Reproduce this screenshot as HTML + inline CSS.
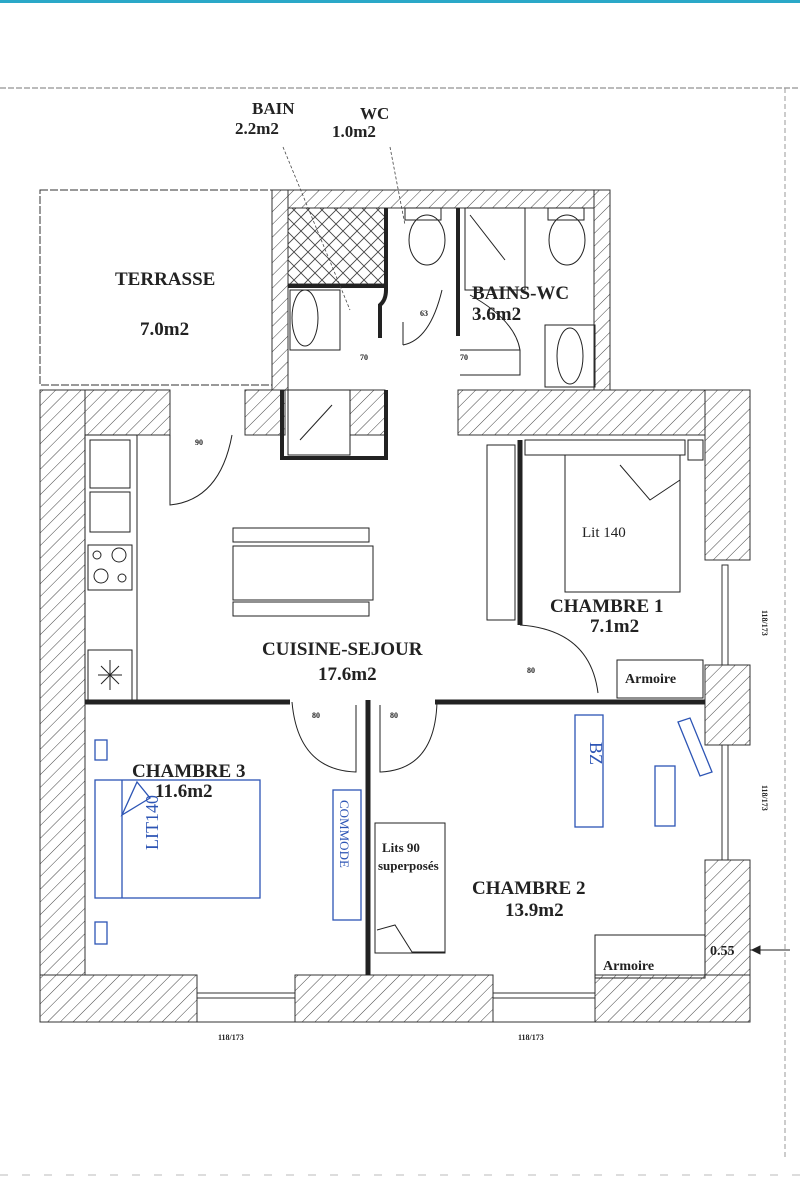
<!DOCTYPE html>
<html><head><meta charset="utf-8"><style>
html,body{margin:0;padding:0;background:#fff}
svg{display:block}
text{font-family:"Liberation Serif",serif;fill:#222}
</style></head><body>
<svg width="800" height="1200" viewBox="0 0 800 1200" xmlns="http://www.w3.org/2000/svg">
<defs>
<pattern id="h" patternUnits="userSpaceOnUse" width="9" height="9" patternTransform="rotate(45)">
<rect width="9" height="9" fill="#fff"/><line x1="0" y1="0" x2="0" y2="9" stroke="#444" stroke-width="1"/>
</pattern>
<pattern id="x" patternUnits="userSpaceOnUse" width="14" height="14">
<rect width="14" height="14" fill="#fff"/><path d="M0 0L14 14M14 0L0 14" stroke="#444" stroke-width="0.9"/>
</pattern>
</defs>
<rect width="800" height="1200" fill="#fff"/>
<rect x="0" y="0" width="800" height="3" fill="#2aa8c8"/>
<line x1="0" y1="88" x2="800" y2="88" stroke="#777" stroke-width="1" stroke-dasharray="6,2"/>
<line x1="785" y1="88" x2="785" y2="1160" stroke="#999" stroke-width="1" stroke-dasharray="5,3"/>
<line x1="0" y1="1175" x2="800" y2="1175" stroke="#bbb" stroke-width="1" stroke-dasharray="8,14"/>

<g stroke="#333" stroke-width="1" fill="none">
<!-- terrasse -->
<rect x="40" y="190" width="232" height="195" stroke-dasharray="8,2"/>
</g>
<!-- bath block walls -->
<g fill="url(#h)" stroke="#333" stroke-width="1">
<rect x="272" y="190" width="338" height="18"/>
<rect x="272" y="190" width="16" height="200"/>
<rect x="594" y="190" width="16" height="200"/>
<!-- main walls -->
<rect x="40" y="390" width="130" height="45"/>
<rect x="245" y="390" width="40" height="45"/>
<rect x="350" y="390" width="35" height="45"/>
<rect x="458" y="390" width="292" height="45"/>
<rect x="40" y="390" width="45" height="632"/>
<rect x="705" y="390" width="45" height="170"/>
<rect x="705" y="665" width="45" height="80"/>
<rect x="705" y="860" width="45" height="162"/>
<rect x="40" y="975" width="157" height="47"/>
<rect x="295" y="975" width="198" height="47"/>
<rect x="595" y="975" width="155" height="47"/>
</g>
<!-- windows -->
<g stroke="#333" stroke-width="1" fill="#fff">
<rect x="197" y="993" width="98" height="5"/>
<rect x="493" y="993" width="102" height="5"/>
<rect x="722" y="565" width="6" height="100"/>
<rect x="722" y="745" width="6" height="115"/>
<line x1="197" y1="1022" x2="295" y2="1022"/>
<line x1="493" y1="1022" x2="595" y2="1022"/>
</g>
<!-- bath interiors -->
<rect x="288" y="208" width="98" height="76" fill="url(#x)" stroke="#333"/>
<g fill="none" stroke="#222">
<path d="M288 286H386V286" stroke-width="4"/>
<path d="M386 208V290Q386 300 380 305V338" stroke-width="4"/>
<path d="M458 208V336" stroke-width="4"/>
<ellipse cx="305" cy="318" rx="13" ry="28"/>
<rect x="290" y="290" width="50" height="60"/>
<rect x="405" y="208" width="36" height="12"/>
<ellipse cx="427" cy="240" rx="18" ry="25"/>
<rect x="465" y="208" width="60" height="82"/>
<line x1="470" y1="215" x2="505" y2="260"/>
<rect x="548" y="208" width="36" height="12"/>
<ellipse cx="567" cy="240" rx="18" ry="25"/>
<rect x="545" y="325" width="50" height="62"/>
<ellipse cx="570" cy="356" rx="13" ry="28"/>
<path d="M403 322V345M403 345Q430 340 442 290" stroke-width="1"/>
<path d="M460 350L520 350Q515 320 470 295" stroke-width="1"/>
<path d="M460 375H520V350"/>
<rect x="288" y="390" width="62" height="65"/>
<path d="M282 390V458H386V390" stroke-width="4"/>
<line x1="300" y1="440" x2="332" y2="405"/>
<!-- kitchen -->
<rect x="85" y="435" width="52" height="265"/>
<rect x="90" y="440" width="40" height="48"/>
<rect x="90" y="492" width="40" height="40"/>
<rect x="88" y="545" width="44" height="45"/>
<circle cx="97" cy="555" r="4"/><circle cx="119" cy="555" r="7"/>
<circle cx="101" cy="576" r="7"/><circle cx="122" cy="578" r="4"/>
<rect x="88" y="650" width="44" height="50"/>
<path d="M98 675H122M110 660V690M101 666L119 684M119 666L101 684" />
<!-- door 90 -->
<path d="M170 435V505Q220 500 232 435"/>
<!-- table -->
<rect x="233" y="528" width="136" height="14"/>
<rect x="233" y="546" width="140" height="54"/>
<rect x="233" y="602" width="136" height="14"/>
<!-- chambre 1 -->
<rect x="487" y="445" width="28" height="175"/>
<path d="M520 440V625" stroke-width="5"/>
<path d="M520 625Q590 630 598 693"/>
<rect x="525" y="440" width="160" height="15"/>
<rect x="565" y="455" width="115" height="137"/>
<path d="M620 465L650 500L680 480"/>
<rect x="688" y="440" width="15" height="20"/>
<rect x="617" y="660" width="86" height="38"/>
<!-- main interior walls -->
<path d="M85 702H290M435 702H705" stroke-width="5"/>
<path d="M368 700V975" stroke-width="5"/>
<path d="M356 705V772Q298 770 292 702M380 705V772Q435 770 437 702"/>
<!-- chambre 2 -->
<rect x="375" y="823" width="70" height="130"/>
<path d="M377 930L395 925L412 952H445"/>
<rect x="595" y="935" width="110" height="43"/>
</g>
<!-- blue pen -->
<g fill="none" stroke="#2d55b5" stroke-width="1.3">
<rect x="95" y="780" width="165" height="118"/>
<line x1="122" y1="780" x2="122" y2="898"/>
<path d="M122 815L137 782L150 798Z"/>
<rect x="95" y="740" width="12" height="20"/>
<rect x="95" y="922" width="12" height="22"/>
<rect x="333" y="790" width="28" height="130"/>
<rect x="575" y="715" width="28" height="112"/>
<rect x="655" y="766" width="20" height="60"/>
<path d="M678 722L690 718L712 772L700 776Z"/>
</g>
<g fill="#2d55b5" font-family="Liberation Sans,sans-serif" font-size="18">
<text transform="translate(158,850) rotate(-90)" style="fill:#2d55b5">LIT140</text>
<text transform="translate(340,800) rotate(90)" font-size="13" style="fill:#2d55b5">COMMODE</text>
<text transform="translate(590,742) rotate(90)" style="fill:#2d55b5">BZ</text>
</g>
<!-- leader lines -->
<g stroke="#444" stroke-width="0.8" stroke-dasharray="3,2" fill="none">
<line x1="283" y1="147" x2="350" y2="310"/>
<line x1="390" y1="147" x2="405" y2="225"/>
</g>
<!-- labels -->
<g font-weight="bold">
<text x="252" y="114" font-size="17">BAIN</text>
<text x="235" y="134" font-size="17">2.2m2</text>
<text x="360" y="119" font-size="17">WC</text>
<text x="332" y="137" font-size="17">1.0m2</text>
<text x="115" y="285" font-size="19">TERRASSE</text>
<text x="140" y="335" font-size="19">7.0m2</text>
<text x="472" y="299" font-size="19">BAINS-WC</text>
<text x="472" y="320" font-size="19">3.6m2</text>
<text x="262" y="655" font-size="19">CUISINE-SEJOUR</text>
<text x="318" y="680" font-size="19">17.6m2</text>
<text x="550" y="612" font-size="19">CHAMBRE 1</text>
<text x="590" y="632" font-size="19">7.1m2</text>
<text x="132" y="777" font-size="19">CHAMBRE 3</text>
<text x="155" y="797" font-size="19">11.6m2</text>
<text x="472" y="894" font-size="19">CHAMBRE 2</text>
<text x="505" y="916" font-size="19">13.9m2</text>
<text x="582" y="537" font-size="15" font-weight="normal">Lit 140</text>
<text x="625" y="683" font-size="14">Armoire</text>
<text x="603" y="970" font-size="14">Armoire</text>
<text x="382" y="852" font-size="13">Lits 90</text>
<text x="378" y="870" font-size="13">superposés</text>
<text x="710" y="955" font-size="14">0.55</text>
<g font-size="8">
<text x="195" y="445">90</text><text x="420" y="316">63</text>
<text x="360" y="360">70</text><text x="460" y="360">70</text>
<text x="527" y="673">80</text><text x="312" y="718">80</text><text x="390" y="718">80</text>
<text x="218" y="1040">118/173</text><text x="518" y="1040">118/173</text>
<text transform="translate(762,610) rotate(90)">118/173</text>
<text transform="translate(762,785) rotate(90)">118/173</text>
</g>
</g>
<path d="M750 950H790M752 950L760 946V954Z" stroke="#222" fill="#222"/>
</svg>
</body></html>
